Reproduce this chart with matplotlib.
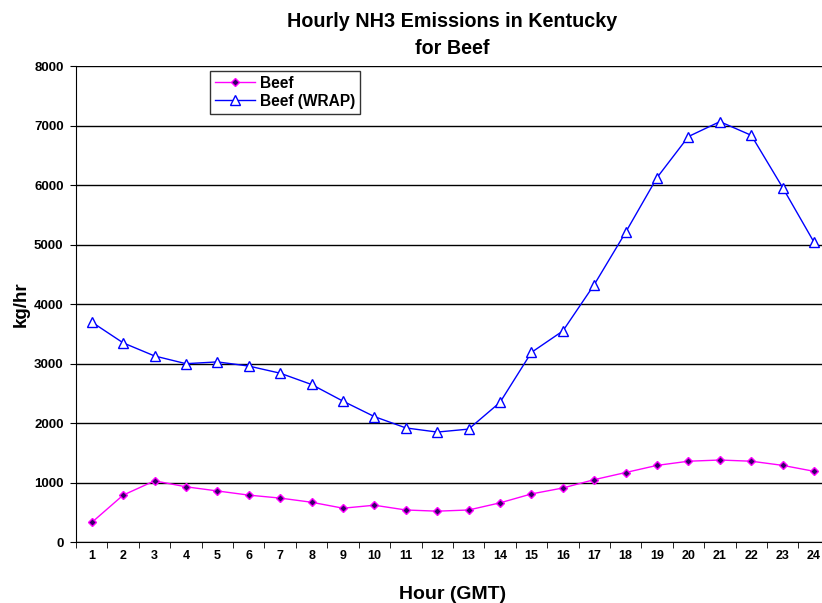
import matplotlib
matplotlib.use('Agg')
import matplotlib.pyplot as plt
import numpy as np

plt.rcParams['font.family'] = ['Liberation Sans', 'DejaVu Sans']
plt.rcParams['font.weight'] = 'bold'

hours = list(range(1, 25))
beef = [330, 790, 1030, 930, 860, 790, 740, 670, 570, 620, 540, 520,
        540, 660, 810, 910, 1050, 1170, 1290, 1360, 1380, 1360, 1290, 1190]
beef_wrap = [3700, 3350, 3130, 3000, 3030, 2960, 2840, 2650, 2370, 2110, 1920, 1850,
             1900, 2350, 3190, 3550, 4330, 5210, 6130, 6820, 7070, 6840, 5960, 5040]

fig = plt.figure(figsize=(8.22, 6.03), dpi=100)
ax = fig.add_axes([0.0925, 0.101, 0.917, 0.789])

ax.plot(hours, beef, color='#ff00ff', linewidth=1, marker='D', markersize=4,
        markerfacecolor='#330066', markeredgecolor='#ff00ff', markeredgewidth=1, label='Beef')
ax.plot(hours, beef_wrap, color='#0000ff', linewidth=1, marker='^', markersize=7,
        markerfacecolor='white', markeredgecolor='#0000ff', markeredgewidth=1, label='Beef (WRAP)')

ax.set_xlim(0.5, 24.5)
ax.set_ylim(0, 8000)
ax.set_yticks(range(0, 8001, 1000))
ax.set_xticks(hours)
ax.set_xticks(np.arange(0.5, 25, 1), minor=True)
ax.tick_params(axis='x', which='major', length=0, pad=6, labelsize=9)
ax.tick_params(axis='x', which='minor', length=4, direction='out')
ax.tick_params(axis='y', length=4, direction='out', labelsize=9.5, pad=5)
ax.grid(axis='y', color='black', linewidth=1)
ax.set_axisbelow(True)
for s in ['top', 'right']:
    ax.spines[s].set_visible(False)

ax.set_xlabel('Hour (GMT)', fontsize=14, fontweight='bold', labelpad=17)
ax.set_ylabel('kg/hr', fontsize=13.5, fontweight='bold', labelpad=3)
fig.text(0.55, 0.942, 'Hourly NH3 Emissions in Kentucky\nfor Beef', ha='center', va='center',
         fontsize=14.2, fontweight='bold', linespacing=1.55)

leg = ax.legend(loc='upper left', bbox_to_anchor=(0.178, 0.99), fontsize=11.2, frameon=True,
                fancybox=False, edgecolor='black', borderpad=0.3, handlelength=2.6,
                labelspacing=0.2, handletextpad=0.3, borderaxespad=0)
leg.get_frame().set_linewidth(1)

fig.savefig('out.png', dpi=100)
